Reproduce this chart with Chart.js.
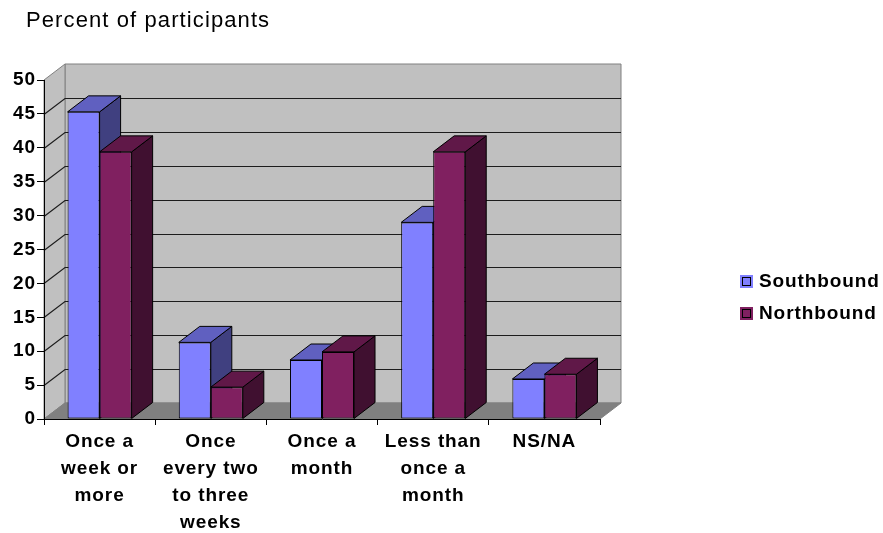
<!DOCTYPE html>
<html>
<head>
<meta charset="utf-8">
<title>Percent of participants</title>
<script src="https://cdn.jsdelivr.net/npm/chart.js@4"></script>
<style>
  html, body { margin: 0; background: #fff; }
  #wrap { width: 883px; height: 533px; }
</style>
</head>
<body>
<div id="wrap"><canvas id="trips-chart"></canvas></div>
<script>
// ---- data ----
const categories = [
  ['Once a', 'week or', 'more'],
  ['Once', 'every two', 'to three', 'weeks'],
  ['Once a', 'month'],
  ['Less than', 'once a', 'month'],
  'NS/NA'
];
const southbound = [45.3, 11.3, 8.7, 29, 5.9];
const northbound = [39.4, 4.7, 9.9, 39.4, 6.6];
const axisTitle = 'Percent of participants';

// front, top and side shades of each series
const southColors = { front: '#8080ff', top: '#6060c0', side: '#404080' };
const northColors = { front: '#802060', top: '#601848', side: '#401030' };

const DEPTH_X = 21;
const DEPTH_Y = -16;
const FONT = '"Liberation Sans", Arial, sans-serif';

function poly(ctx, pts, fill, stroke) {
  ctx.beginPath();
  pts.forEach((p, i) => i ? ctx.lineTo(p[0], p[1]) : ctx.moveTo(p[0], p[1]));
  ctx.closePath();
  if (fill) { ctx.fillStyle = fill; ctx.fill(); }
  if (stroke) { ctx.strokeStyle = stroke; ctx.lineWidth = 1; ctx.stroke(); }
}

const roomPlugin = {
  id: 'room',
  // Back wall, side wall, floor and their gridlines, all offset from the y scale
  beforeDraw(chart) {
    const { ctx, chartArea: a, scales: { y } } = chart;
    const dx = DEPTH_X, dy = DEPTH_Y;
    ctx.letterSpacing = '0.9px';
    ctx.save();
    poly(ctx, [[a.left + dx, a.top + dy], [a.right + dx, a.top + dy], [a.right + dx, a.bottom + dy], [a.left + dx, a.bottom + dy]], '#c0c0c0', '#808080');
    poly(ctx, [[a.left, a.top], [a.left + dx, a.top + dy], [a.left + dx, a.bottom + dy], [a.left, a.bottom]], '#c0c0c0', '#808080');
    poly(ctx, [[a.left, a.bottom], [a.left + dx, a.bottom + dy], [a.right + dx, a.bottom + dy], [a.right, a.bottom]], '#808080', '#808080');

    ctx.strokeStyle = '#1c1c1c';
    ctx.lineWidth = 1.2;
    y.ticks.forEach(t => {
      if (t.value === 0 || t.value === y.max) return;
      const py = Math.round(y.getPixelForValue(t.value)) + 0.5;
      ctx.beginPath();
      ctx.moveTo(a.left, py);
      ctx.lineTo(a.left + dx, py + dy);
      ctx.lineTo(a.right + dx, py + dy);
      ctx.stroke();
    });
    ctx.restore();
  },
  // Side and top faces: southbound first so the northbound bar overlaps it
  beforeDatasetsDraw(chart) {
    const { ctx } = chart;
    const dx = DEPTH_X, dy = DEPTH_Y;
    ctx.save();
    chart.data.datasets.forEach((ds, i) => {
      chart.getDatasetMeta(i).data.forEach(bar => {
        const { x, y, base, width } = bar.getProps(['x', 'y', 'base', 'width'], true);
        const l = x - width / 2, r = x + width / 2;
        poly(ctx, [[r, y], [r + dx, y + dy], [r + dx, base + dy], [r, base]], ds.shades.side, '#000');
        poly(ctx, [[l, y], [l + dx, y + dy], [r + dx, y + dy], [r, y]], ds.shades.top, '#000');
      });
    });
    ctx.restore();
  },
  // Heading and legend sit outside the plot box
  afterDraw(chart) {
    const { ctx } = chart;
    ctx.save();
    ctx.textBaseline = 'middle';
    ctx.textAlign = 'left';
    ctx.fillStyle = '#000';
    ctx.letterSpacing = '1.1px';
    ctx.font = '22px ' + FONT;
    ctx.fillText(axisTitle, 26, 21);

    ctx.letterSpacing = '0.9px';
    ctx.font = 'bold 19px ' + FONT;
    chart.data.datasets.forEach((ds, i) => {
      const top = 275 + i * 32;
      ctx.fillStyle = ds.backgroundColor;
      ctx.fillRect(740, top, 13, 13);
      ctx.strokeStyle = '#000';
      ctx.lineWidth = 1;
      ctx.strokeRect(742.5, top + 2.5, 8, 8);
      ctx.fillStyle = '#000';
      ctx.fillText(ds.label, 759, top + 6.5);
    });
    ctx.restore();
  }
};

new Chart(document.getElementById('trips-chart'), {
  type: 'bar',
  data: {
    labels: categories,
    datasets: [
      { label: 'Southbound', data: southbound, backgroundColor: southColors.front, shades: southColors, borderColor: '#000', borderWidth: 1, borderSkipped: false },
      { label: 'Northbound', data: northbound, backgroundColor: northColors.front, shades: northColors, borderColor: '#000', borderWidth: 1, borderSkipped: false }
    ]
  },
  plugins: [roomPlugin],
  options: {
    responsive: true, maintainAspectRatio: false, animation: false,
    layout: { padding: { top: 80, right: 283, left: 0, bottom: 0 } },
    datasets: { bar: { barPercentage: 1, categoryPercentage: 0.576 } },
    plugins: { legend: { display: false }, title: { display: false }, tooltip: { enabled: false } },
    scales: {
      x: {
        afterFit(scale) { scale.height = 114; },
        grid: { drawOnChartArea: false, color: '#000', tickLength: 6, tickColor: '#000', offset: true },
        border: { color: '#000' },
        ticks: { color: '#000', autoSkip: false, maxRotation: 0, padding: 3, font: { family: FONT, size: 19, weight: 'bold', lineHeight: 1.42 } }
      },
      y: {
        min: 0, max: 50,
        afterFit(scale) { scale.width = 44; },
        grid: { drawOnChartArea: false, tickLength: 7, tickColor: '#000' },
        border: { color: '#000' },
        ticks: { stepSize: 5, color: '#000', padding: 1, font: { family: FONT, size: 19, weight: 'bold' } }
      }
    }
  }
});
</script>
</body>
</html>
